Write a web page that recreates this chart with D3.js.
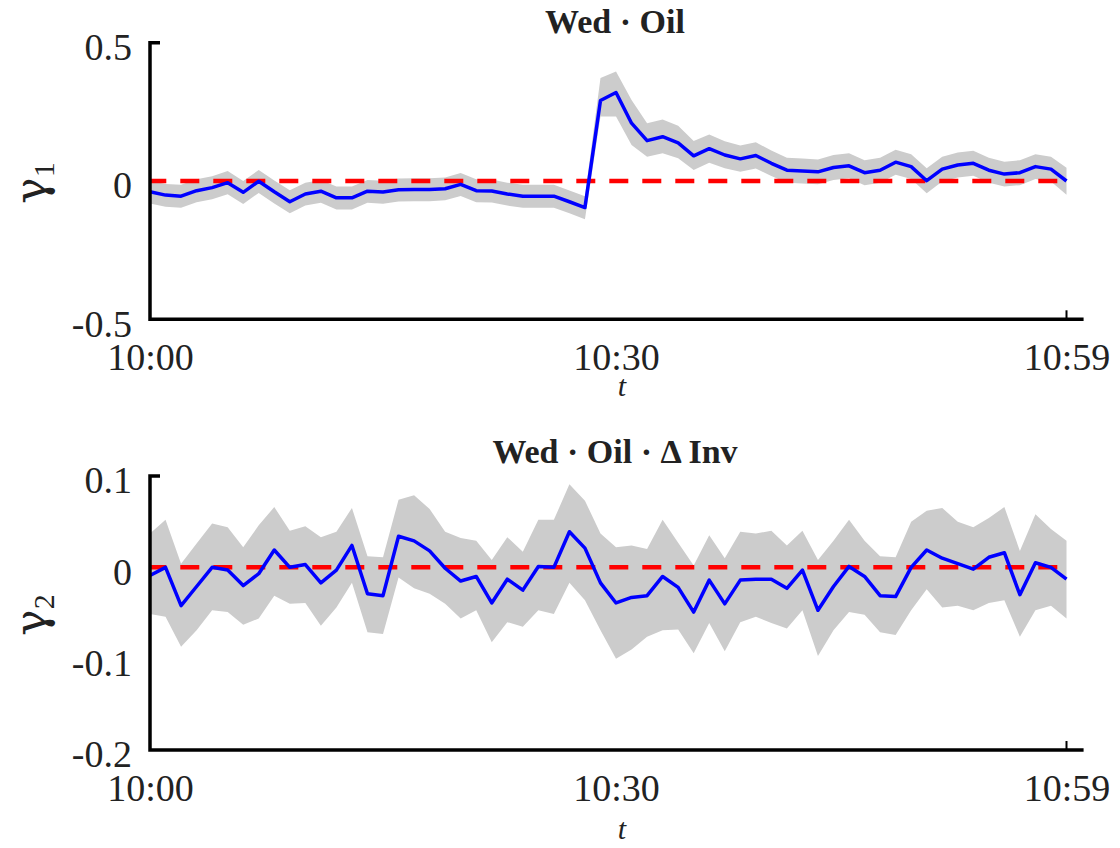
<!DOCTYPE html>
<html>
<head>
<meta charset="utf-8">
<script src="https://cdn.jsdelivr.net/npm/d3@7"></script>
<style>
html,body{margin:0;padding:0;background:#fff;}
svg{display:block;}
text{font-family:"Liberation Serif","Times New Roman",serif;fill:#222;}
</style>
</head>
<body>
<svg id="chart" width="1120" height="848"></svg>
<script>
// ---- data ----
const minutes = d3.range(0, 60); // 10:00 ... 10:59
const xTickValues = [0, 30, 59];
const xTickLabels = ["10:00", "10:30", "10:59"];

const gamma1 = [-0.039,-0.051,-0.055,-0.035,-0.024,-0.006,-0.041,-0.001,-0.039,-0.075,
  -0.047,-0.037,-0.061,-0.061,-0.037,-0.040,-0.032,-0.031,-0.031,-0.028,
  -0.012,-0.035,-0.036,-0.047,-0.055,-0.055,-0.055,-0.075,-0.096,0.291,
  0.320,0.209,0.146,0.160,0.138,0.091,0.117,0.094,0.080,0.092,
  0.064,0.039,0.036,0.033,0.049,0.055,0.030,0.039,0.068,0.052,
  0.001,0.043,0.058,0.064,0.039,0.025,0.030,0.052,0.043,0.000];
const gamma1Upper = [0.001,-0.011,-0.014,0.006,0.017,0.036,0.000,0.040,0.002,-0.033,
  -0.006,0.004,-0.020,-0.020,0.004,0.001,0.009,0.010,0.010,0.013,
  0.029,0.006,0.005,-0.006,-0.014,-0.014,-0.014,-0.034,-0.055,0.372,
  0.396,0.293,0.209,0.222,0.200,0.145,0.168,0.144,0.128,0.140,
  0.110,0.084,0.081,0.078,0.094,0.100,0.075,0.084,0.113,0.097,
  0.046,0.088,0.103,0.109,0.084,0.070,0.075,0.097,0.088,0.048];
const gamma1Lower = [-0.081,-0.093,-0.097,-0.077,-0.066,-0.048,-0.083,-0.043,-0.081,-0.117,
  -0.089,-0.079,-0.103,-0.103,-0.079,-0.082,-0.074,-0.073,-0.073,-0.070,
  -0.054,-0.077,-0.078,-0.089,-0.097,-0.097,-0.097,-0.117,-0.138,0.233,
  0.233,0.130,0.088,0.100,0.082,0.040,0.066,0.046,0.033,0.045,
  0.018,-0.006,-0.009,-0.012,0.004,0.010,-0.015,-0.006,0.023,0.007,
  -0.044,-0.002,0.013,0.019,-0.006,-0.020,-0.015,0.007,-0.002,-0.050];

const gamma2 = [-0.009,0.000,-0.042,-0.021,0.000,-0.003,-0.020,-0.007,0.019,0.000,
  0.003,-0.017,-0.003,0.024,-0.029,-0.031,0.034,0.029,0.018,-0.001,
  -0.015,-0.010,-0.039,-0.013,-0.025,0.001,0.000,0.039,0.021,-0.017,
  -0.039,-0.033,-0.031,-0.010,-0.022,-0.049,-0.014,-0.040,-0.014,-0.013,
  -0.013,-0.023,-0.003,-0.047,-0.021,0.001,-0.010,-0.031,-0.032,0.000,
  0.019,0.010,0.004,-0.002,0.011,0.016,-0.030,0.005,0.000,-0.013];
const gamma2Upper = [0.037,0.052,0.004,0.026,0.048,0.044,0.022,0.046,0.066,0.040,
  0.045,0.033,0.039,0.065,0.012,0.011,0.074,0.079,0.064,0.039,
  0.032,0.029,0.008,0.033,0.017,0.052,0.052,0.091,0.073,0.037,
  0.022,0.024,0.020,0.052,0.027,0.002,0.035,0.010,0.039,0.037,
  0.040,0.024,0.040,0.008,0.029,0.052,0.029,0.012,0.011,0.050,
  0.062,0.065,0.050,0.044,0.054,0.066,0.018,0.058,0.042,0.029];
const gamma2Lower = [-0.051,-0.054,-0.087,-0.069,-0.047,-0.049,-0.063,-0.056,-0.031,-0.040,
  -0.039,-0.064,-0.044,-0.017,-0.071,-0.073,-0.011,-0.023,-0.029,-0.040,
  -0.056,-0.047,-0.082,-0.060,-0.065,-0.047,-0.051,-0.017,-0.036,-0.069,
  -0.100,-0.090,-0.076,-0.069,-0.068,-0.094,-0.061,-0.092,-0.060,-0.054,
  -0.061,-0.067,-0.047,-0.097,-0.069,-0.049,-0.052,-0.071,-0.074,-0.047,
  -0.024,-0.044,-0.042,-0.047,-0.039,-0.036,-0.076,-0.047,-0.042,-0.056];

const panels = [
  {title:"Wed · Oil", sub:"1", values:gamma1, upper:gamma1Upper, lower:gamma1Lower,
   yDomain:[-0.5,0.5], yTicks:[-0.5,0,0.5], top:42.7, bottom:319.3, titleY:33, tY:396},
  {title:"Wed · Oil · Δ Inv", sub:"2", values:gamma2, upper:gamma2Upper, lower:gamma2Lower,
   yDomain:[-0.2,0.1], yTicks:[-0.2,-0.1,0,0.1], top:476, bottom:750, titleY:463, tY:839}
];

const svg = d3.select("#chart");
const x = d3.scaleLinear().domain([0, 59]).range([150, 1066.5]);
const fmtMin = d => xTickLabels[xTickValues.indexOf(d)];

panels.forEach(p => {
  const y = d3.scaleLinear().domain(p.yDomain).range([p.bottom, p.top]);
  const g = svg.append("g");
  const rows = minutes.map((m, i) => ({m, v:p.values[i], lo:p.lower[i], hi:p.upper[i]}));

  // confidence band
  g.append("path").datum(rows)
    .attr("d", d3.area().x(d => x(d.m)).y0(d => y(d.lo)).y1(d => y(d.hi)))
    .attr("fill", "#cccccc").attr("stroke", "none");

  // zero reference line
  g.append("line")
    .attr("x1", x(0)).attr("x2", x(59)).attr("y1", y(0)).attr("y2", y(0))
    .attr("stroke", "#ff0000").attr("stroke-width", 4.5)
    .attr("stroke-dasharray", "19,14").attr("stroke-dashoffset", 2.7);

  // estimate line
  g.append("path").datum(rows)
    .attr("d", d3.line().x(d => x(d.m)).y(d => y(d.v)))
    .attr("fill", "none").attr("stroke", "#0000ff").attr("stroke-width", 3.5)
    .attr("stroke-linejoin", "round");

  // y axis (labels through d3 axis)
  const yAx = g.append("g").attr("transform", `translate(${x(0)},0)`)
    .call(d3.axisLeft(y).tickValues(p.yTicks).tickSize(0).tickPadding(18).tickFormat(d => String(d)));
  yAx.select(".domain").remove();
  yAx.selectAll("text").attr("font-size", 38).attr("dy", "0.44em")
    .style("font-family", '"Liberation Serif", serif').attr("fill", "#222");

  // x axis labels
  const xAx = g.append("g").attr("transform", `translate(0,${p.bottom})`)
    .call(d3.axisBottom(x).tickValues(xTickValues).tickSize(0).tickPadding(0).tickFormat(fmtMin));
  xAx.select(".domain").remove();
  xAx.selectAll("text").attr("font-size", 38).attr("dy", null).attr("y", 51)
    .style("font-family", '"Liberation Serif", serif').attr("fill", "#222");

  // axis lines (MATLAB-style box corner)
  const xEnd = x(60.1);
  g.append("path")
    .attr("d", `M${x(0)+10},${p.top}H${x(0)}V${p.bottom}H${xEnd}`)
    .attr("fill", "none").attr("stroke", "#000").attr("stroke-width", 3.5);
  g.append("line")
    .attr("x1", x(59)).attr("x2", x(59)).attr("y1", p.bottom).attr("y2", p.bottom - 9)
    .attr("stroke", "#000").attr("stroke-width", 2);

  // title
  g.append("text").attr("x", 615).attr("y", p.titleY).attr("text-anchor", "middle")
    .attr("font-size", 34).attr("font-weight", "bold").attr("fill", "#111").text(p.title);

  // x label
  g.append("text").attr("x", x(30) + 6).attr("y", p.tY).attr("text-anchor", "middle")
    .attr("font-size", 30).attr("font-style", "italic").text("t");

  // y label
  const yl = g.append("text")
    .attr("transform", `translate(46,${(p.top + p.bottom) / 2 + 2}) rotate(-90)`)
    .attr("text-anchor", "middle").attr("font-size", 44)
    .style("font-family", '"DejaVu Serif", serif');
  yl.append("tspan").text("γ");
  yl.append("tspan").attr("font-size", 30).attr("dy", 8)
    .style("font-family", '"Liberation Serif", serif').text(p.sub);
});
</script>
</body>
</html>
